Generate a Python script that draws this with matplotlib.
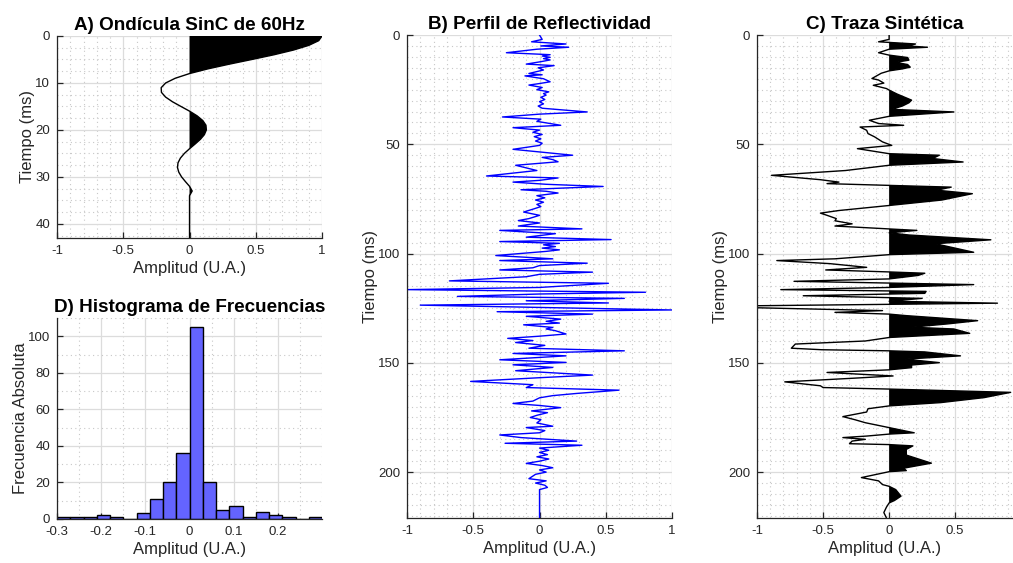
import numpy as np
import matplotlib.pyplot as plt
from matplotlib.ticker import MultipleLocator, FixedLocator

plt.rcParams['font.family'] = ['Liberation Sans', 'DejaVu Sans']

# wavelet (A), every 1 ms
wav_t = list(range(0, 44))
wav_amp = [1.0, 0.975, 0.90, 0.784, 0.637, 0.471, 0.30, 0.139, 0.0, -0.108,
           -0.18, -0.214, -0.212, -0.181, -0.129, -0.065, 0.0, 0.057, 0.10, 0.124,
           0.127, 0.112, 0.082, 0.042, 0.0, -0.039, -0.069, -0.087, -0.091, -0.081,
           -0.06, -0.031, 0.0, 0.02, 0.0, 0.0, 0.0, 0.0, 0.0, 0.0,
           0.0, 0.0, 0.0, 0.0]

# reflectivity profile (B)
refl_t = [0, 2, 3.1, 4.1, 5, 5.6, 6.5, 8.1, 9, 9.6, 10.2, 10.8, 11.4, 12.2, 13.3, 14, 15, 16,
          17.6, 18.2, 18.7, 20, 21.4, 22.2, 22.9, 24, 25, 26, 26.8, 27.5, 28.5, 29.5, 30.5,
          31.5, 32.5, 33.5, 35.2, 36.2, 37.5, 38.5, 39.5, 41.3, 42.4, 43.5, 44.5, 45.5, 46.5,
          47.5, 48.5, 49.5, 50.5, 52.3, 53.5, 55, 56, 57, 58, 59.6, 62, 64.5, 65.4, 66.5,
          67.3, 68.3, 69.3, 70.8, 71.5, 72.3, 73.5, 74.5, 75.5, 76.5, 77.5, 78.5, 79.5, 81,
          82.5, 84, 84.9, 86, 87.4, 88.7, 89.4, 90.9, 92.5, 93.6, 94.5, 95.3, 96, 96.8, 97.5,
          98.3, 99, 100.9, 102.4, 103.2, 104.4, 105.5, 106.5, 107.5, 108.5, 109.5, 110.6,
          112.5, 113.6, 114.7, 115.5, 116.5, 117.7, 118.5, 119.6, 120.5, 121.6, 122.6, 123.6,
          125.8, 126.6, 127.7, 128.7, 130, 131, 131.8, 132.6, 133.8, 134.5, 135.3, 136.8,
          137.8, 138.8, 139.8, 140.7, 142, 143.3, 144.5, 145.7, 146.8, 148.6, 149.8, 150.9,
          152.1, 153.6, 155.6, 156.8, 158.5, 160, 161.3, 162.5, 164, 165, 166, 167.5, 168.6,
          169.5, 170.5, 172, 172.8, 174, 175, 176, 177.5, 179, 179.6, 181, 182, 183, 184.2,
          185.8, 186.8, 187.7, 189, 190, 191, 192, 193, 194, 195, 196, 197, 198, 199, 200,
          201, 203, 204, 205, 206, 207, 208, 221]
refl_amp = [0, 0.02, -0.06, 0.20, 0.01, 0.22, -0.02, -0.25, 0.08, 0.02, 0.08, 0.03, 0.08,
            0.01, -0.10, 0.11, -0.01, 0.03, -0.08, 0.02, -0.11, 0.03, 0.08, 0.0, -0.08, 0.02,
            -0.02, 0.07, 0.03, 0.05, 0.01, 0.04, 0.0, 0.03, -0.01, 0.02, 0.36, 0.0, -0.28,
            0.01, -0.02, 0.16, -0.20, 0.0, -0.05, 0.02, -0.04, 0.01, -0.03, 0.02, 0.0, -0.20,
            0.0, 0.25, 0.02, 0.10, 0.14, -0.18, -0.02, -0.40, 0.14, 0.0, -0.20, 0.05, 0.48,
            -0.14, 0.05, 0.14, -0.02, 0.04, -0.03, 0.03, -0.02, 0.01, -0.04, -0.12, 0.0, -0.08,
            -0.16, 0.0, -0.16, 0.32, -0.30, 0.12, -0.10, 0.54, -0.30, 0.15, 0.03, 0.12, 0.02,
            0.15, 0.05, -0.33, 0.10, -0.30, 0.36, 0.0, -0.05, -0.30, 0.40, 0.0, -0.10, -0.68,
            0.52, 0.22, 0.0, -1.0, 0.80, 0.0, -0.62, 0.64, -0.10, 0.52, -0.90, 1.0, -0.32, 0.40,
            -0.10, 0.16, 0.05, 0.15, -0.12, 0.10, 0.05, 0.12, 0.20, 0.0, -0.24, -0.05, -0.18,
            0.04, -0.08, 0.64, -0.20, 0.20, -0.30, 0.20, -0.20, 0.10, -0.18, 0.40, 0.0, -0.52,
            -0.05, -0.10, 0.60, 0.28, 0.10, 0.0, -0.05, -0.20, 0.0, 0.16, -0.06, 0.06, -0.02,
            -0.07, 0.01, -0.02, 0.10, -0.10, 0.04, 0.0, -0.30, -0.14, 0.28, -0.26, 0.32, 0.0,
            0.07, 0.0, 0.06, -0.02, 0.07, 0.0, -0.10, 0.02, 0.10, 0.0, 0.05, -0.03, -0.08, 0.05,
            -0.03, 0.04, 0.06, 0.0, 0.0]

# synthetic trace (C)
trace_t = [0, 2, 3.1, 4.1, 5, 5.6, 6.5, 8.1, 9.2, 10.3, 11.5, 12.5, 13.5, 14.7, 15.5, 16.4,
           17.5, 19.9, 20.6, 22, 23, 24.5, 25.2, 27, 28.5, 29.8, 31, 32.5, 34, 35.2, 37.2, 39,
           40.5, 41.3, 42.1, 43.6, 45.1, 46.6, 48.9, 50.5, 52, 54.3, 55, 56.5, 58.1, 59.6, 62,
           64.2, 66.2, 67.3, 68, 68.8, 69.6, 71, 72.6, 75.5, 78, 80.3, 81.5, 82.5, 84, 85, 86.4,
           87.4, 88.3, 89.4, 90.5, 91.5, 93.7, 95.5, 97.5, 99.4, 100.5, 102.4, 103.2, 104.6,
           106.3, 107.5, 108.4, 109, 110, 111.6, 112.7, 114.2, 115.5, 116.5, 117.3, 118.2,
           119.3, 120.5, 121.8, 122.7, 123.9, 124.8, 126.1, 126.9, 127.7, 128.4, 130.7, 132.2,
           133.7, 134.5, 136.5, 138.4, 140, 141.4, 143.3, 144, 144.5, 145, 146.8, 148.3, 149.9,
           151, 152.2, 153.2, 154.4, 156, 157, 158.7, 160.5, 161.3, 162, 163.5, 165.9, 168.2,
           169.7, 171, 172.5, 174.6, 176, 177.4, 178.9, 179.6, 180.5, 182, 182.6, 183.5, 184.2,
           185, 185.8, 187, 187.4, 188, 189.6, 192.2, 195.9, 198.2, 199.3, 199.8, 202.5, 204,
           205.7, 206.5, 208, 211, 213, 214.1, 216, 218.5, 221]
trace_amp = [0, 0.0, -0.08, 0.20, 0.14, 0.29, 0.0, -0.08, 0.0, 0.14, 0.15, 0.05, 0.14, 0.16,
             0.10, 0.0, -0.06, -0.13, -0.08, -0.04, -0.12, -0.02, 0.0, 0.06, 0.12, 0.17, 0.15,
             0.10, 0.02, 0.49, 0.0, -0.15, -0.08, 0.11, -0.22, -0.17, -0.16, -0.11, -0.05, 0.02,
             -0.24, 0.0, 0.38, 0.33, 0.56, 0.0, -0.33, -0.89, -0.52, -0.38, -0.47, 0.0, 0.47,
             0.36, 0.63, 0.40, 0.0, -0.38, -0.52, -0.47, -0.40, -0.41, -0.28, -0.41, -0.13, 0.21,
             0.0, 0.15, 0.77, 0.35, 0.50, 0.64, 0.0, -0.41, -0.85, -0.45, -0.17, -0.48, 0.0,
             0.27, 0.22, 0.0, -0.72, 0.64, 0.0, -0.82, 0.28, 0.27, -0.65, 0.25, 0.0, 0.82, -1.05,
             -1.0, -0.05, -0.41, 0.0, 0.13, 0.67, 0.44, 0.17, 0.49, 0.61, 0.0, -0.18, -0.71,
             -0.74, -0.51, 0.0, 0.27, 0.54, 0.12, 0.38, 0.17, 0.17, 0.0, -0.47, 0.03, -0.26,
             -0.79, -0.52, -0.50, 0.0, 0.92, 0.72, 0.39, 0.0, -0.16, -0.17, -0.35, -0.26, -0.18,
             -0.06, 0.0, 0.07, 0.19, 0.0, -0.17, -0.35, -0.18, -0.28, -0.30, 0.0, 0.18, 0.13,
             0.13, 0.32, 0.11, 0.13, 0.0, -0.21, -0.08, -0.05, 0.0, 0.05, 0.09, 0.04, 0.0,
             -0.02, -0.04, -0.02]

# histogram (D)
hist_counts = [1, 1, 1, 2, 1, 0, 3, 11, 20, 36, 105, 20, 5, 7, 1, 4, 2, 1, 0, 1]
hist_edges = np.linspace(-0.3, 0.3, len(hist_counts) + 1)

fig = plt.figure(figsize=(10.13, 5.63), dpi=100)
axA = fig.add_axes([0.0563, 0.5773, 0.2616, 0.3588])
axD = fig.add_axes([0.0563, 0.0782, 0.2616, 0.357])
axB = fig.add_axes([0.4018, 0.0799, 0.2616, 0.8579])
axC = fig.add_axes([0.7473, 0.0799, 0.2517, 0.8579])

TXT = '#262626'
TITLE_FS = 13.6
LABEL_FS = 12


def style(ax, xmaj, xmin, ymaj, ymin):
    ax.xaxis.set_major_locator(FixedLocator(xmaj))
    ax.xaxis.set_minor_locator(MultipleLocator(xmin))
    ax.yaxis.set_major_locator(FixedLocator(ymaj))
    ax.yaxis.set_minor_locator(MultipleLocator(ymin))
    ax.set_xticklabels(['%g' % v for v in xmaj])
    ax.set_yticklabels(['%g' % v for v in ymaj])
    ax.grid(True, which='major', color='#dcdcdc', lw=0.9, ls='-')
    ax.grid(True, which='minor', color='#c8c8c8', lw=0.8, ls=(0, (1, 3)))
    ax.set_axisbelow(True)
    for s in ['top', 'right']:
        ax.spines[s].set_visible(False)
    for s in ['left', 'bottom']:
        ax.spines[s].set_color(TXT)
        ax.spines[s].set_linewidth(0.9)
    ax.tick_params(which='major', direction='in', length=4, width=0.9, colors=TXT,
                   labelsize=9.5, pad=5)
    ax.tick_params(which='minor', length=0)


# A) wavelet
w_t = np.array(wav_t, dtype=float)
w_a = np.array(wav_amp)
axA.fill_betweenx(w_t, 0, w_a, where=w_a > 0, interpolate=True, color='black', lw=0)
axA.plot(w_a, w_t, color='black', lw=1)
axA.set_xlim(-1, 1)
axA.set_ylim(43, 0)
style(axA, [-1, -0.5, 0, 0.5, 1], 0.1, [0, 10, 20, 30, 40], 2.5)
axA.set_title('A) Ondícula SinC de 60Hz', fontsize=TITLE_FS, fontweight='bold', pad=4)
axA.set_xlabel('Amplitud (U.A.)', fontsize=LABEL_FS, color=TXT, labelpad=3)
axA.set_ylabel('Tiempo (ms)', fontsize=LABEL_FS, color=TXT, labelpad=0)

# B) reflectivity
axB.plot(refl_amp, refl_t, color='blue', lw=1)
axB.set_xlim(-1, 1)
axB.set_ylim(221, 0)
style(axB, [-1, -0.5, 0, 0.5, 1], 0.1, [0, 50, 100, 150, 200], 5)
axB.set_title('B) Perfil de Reflectividad', fontsize=TITLE_FS, fontweight='bold', pad=4)
axB.set_xlabel('Amplitud (U.A.)', fontsize=LABEL_FS, color=TXT, labelpad=3)
axB.set_ylabel('Tiempo (ms)', fontsize=LABEL_FS, color=TXT, labelpad=0)

# C) synthetic trace
t_t = np.array(trace_t, dtype=float)
t_a = np.array(trace_amp)
axC.fill_betweenx(t_t, 0, t_a, where=t_a > 0, interpolate=True, color='black', lw=0)
axC.plot(t_a, t_t, color='black', lw=1)
axC.set_xlim(-1, 0.93)
axC.set_ylim(221, 0)
style(axC, [-1, -0.5, 0, 0.5], 0.1, [0, 50, 100, 150, 200], 5)
axC.set_title('C) Traza Sintética', fontsize=TITLE_FS, fontweight='bold', pad=4)
axC.set_xlabel('Amplitud (U.A.)', fontsize=LABEL_FS, color=TXT, labelpad=3)
axC.set_ylabel('Tiempo (ms)', fontsize=LABEL_FS, color=TXT, labelpad=0)

# D) histogram
axD.bar(hist_edges[:-1], hist_counts, width=np.diff(hist_edges), align='edge',
        color='#6464ff', edgecolor='black', lw=1)
axD.set_xlim(-0.3, 0.3)
axD.set_ylim(0, 110)
style(axD, [-0.3, -0.2, -0.1, 0, 0.1, 0.2], 0.05, [0, 20, 40, 60, 80, 100], 10)
axD.set_title('D) Histograma de Frecuencias', fontsize=TITLE_FS, fontweight='bold', pad=4)
axD.set_xlabel('Amplitud (U.A.)', fontsize=LABEL_FS, color=TXT, labelpad=3)
axD.set_ylabel('Frecuencia Absoluta', fontsize=LABEL_FS, color=TXT, labelpad=0)

fig.savefig('out.png', dpi=100)
